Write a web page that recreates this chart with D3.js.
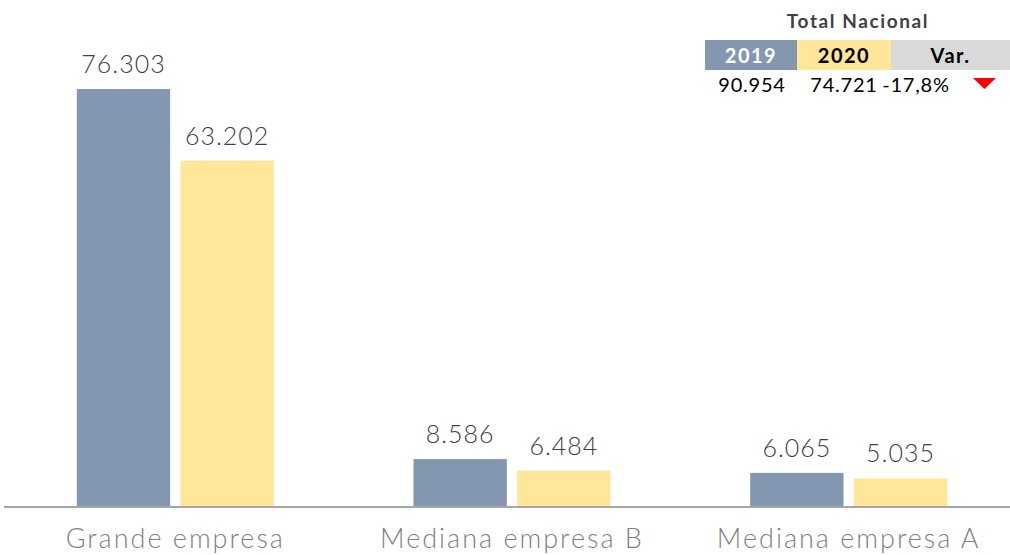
<!DOCTYPE html>
<html>
<head>
<meta charset="utf-8">
<script src="https://cdn.jsdelivr.net/npm/d3@7"></script>
<style>
  body { margin: 0; background: #fff; }
  svg text { font-family: "Lato", "DejaVu Sans", sans-serif; }
</style>
</head>
<body>
<svg id="chart" width="1010" height="555"></svg>
<script>
// chart data
const categories = ["Grande empresa", "Mediana empresa B", "Mediana empresa A"];
const years = ["2019", "2020"];
const values2019 = [76303, 8586, 6065];
const values2020 = [63202, 6484, 5035];

// summary table
const totalHeaders = ["2019", "2020", "Var."];
const totalValues = ["90.954", "74.721", "-17,8%"];

const colors = { "2019": "#8497B0", "2020": "#FFE699" };
const fmt = v => d3.format(",")(v).replace(/,/g, ".");

const svg = d3.select("#chart");
const baseline = 506;

const x = d3.scaleBand().domain(categories).range([7, 1017]);
const xInner = d3.scaleBand().domain(years).range([0, 197]).paddingInner(0.1);
const y = d3.scaleLinear().domain([0, 76303]).range([baseline, 89]);

const rows = categories.map((c, i) => ({ cat: c, vals: [
  { year: "2019", value: values2019[i] },
  { year: "2020", value: values2020[i] }
]}));

const groups = svg.selectAll(".grp")
  .data(rows)
  .enter().append("g")
  .attr("class", "grp")
  .attr("transform", d => `translate(${x(d.cat) + (x.bandwidth() - 197) / 2},0)`);

groups.selectAll("rect")
  .data(d => d.vals)
  .enter().append("rect")
  .attr("x", d => xInner(d.year))
  .attr("width", xInner.bandwidth())
  .attr("y", d => y(d.value))
  .attr("height", d => baseline - y(d.value))
  .attr("fill", d => colors[d.year]);

groups.selectAll("text.val")
  .data(d => d.vals)
  .enter().append("text")
  .attr("class", "val")
  .attr("x", d => xInner(d.year) + xInner.bandwidth() / 2)
  .attr("y", d => y(d.value) - 16)
  .attr("text-anchor", "middle")
  .attr("font-size", 25)
  .attr("font-weight", 300)
  .attr("letter-spacing", 1)
  .attr("fill", "#404040")
  .text(d => fmt(d.value));

// axis line
svg.append("line")
  .attr("x1", 4).attr("x2", 1010)
  .attr("y1", baseline + 1).attr("y2", baseline + 1)
  .attr("stroke", "#A6A6A6").attr("stroke-width", 2);

// category labels
svg.selectAll(".cat")
  .data(categories)
  .enter().append("text")
  .attr("class", "cat")
  .attr("x", d => x(d) + x.bandwidth() / 2)
  .attr("y", 548)
  .attr("text-anchor", "middle")
  .attr("font-size", 27)
  .attr("font-weight", 300)
  .attr("letter-spacing", 2)
  .attr("fill", "#7F7F7F")
  .text(d => d);

// Total Nacional table
const tbl = svg.append("g");
tbl.append("text")
  .attr("x", 858).attr("y", 28)
  .attr("text-anchor", "middle")
  .attr("font-size", 19).attr("font-weight", "bold")
  .attr("letter-spacing", 1.6)
  .attr("fill", "#404040")
  .text("Total Nacional");

const cellX = [705, 797, 891];
const cellW = [92, 94, 119];
const cellFill = ["#8497B0", "#FFE699", "#D9D9D9"];
const cellText = ["#FFFFFF", "#000000", "#000000"];

totalHeaders.forEach((h, i) => {
  tbl.append("rect")
    .attr("x", cellX[i]).attr("y", 40)
    .attr("width", cellW[i]).attr("height", 30)
    .attr("fill", cellFill[i]);
  tbl.append("text")
    .attr("x", cellX[i] + cellW[i] / 2).attr("y", 63)
    .attr("text-anchor", "middle")
    .attr("font-size", 20).attr("font-weight", "bold")
    .attr("letter-spacing", 1.5)
    .attr("fill", cellText[i])
    .text(h);
});

const valX = [752, 844, 916];
totalValues.forEach((v, i) => {
  tbl.append("text")
    .attr("x", valX[i]).attr("y", 92)
    .attr("text-anchor", "middle")
    .attr("font-size", 20)
    .attr("letter-spacing", 0.8)
    .attr("fill", "#000")
    .text(v);
});

// red down triangle
tbl.append("path")
  .attr("d", "M973,78 L996,78 L984.5,89 Z")
  .attr("fill", "#FF0000");
</script>
</body>
</html>
